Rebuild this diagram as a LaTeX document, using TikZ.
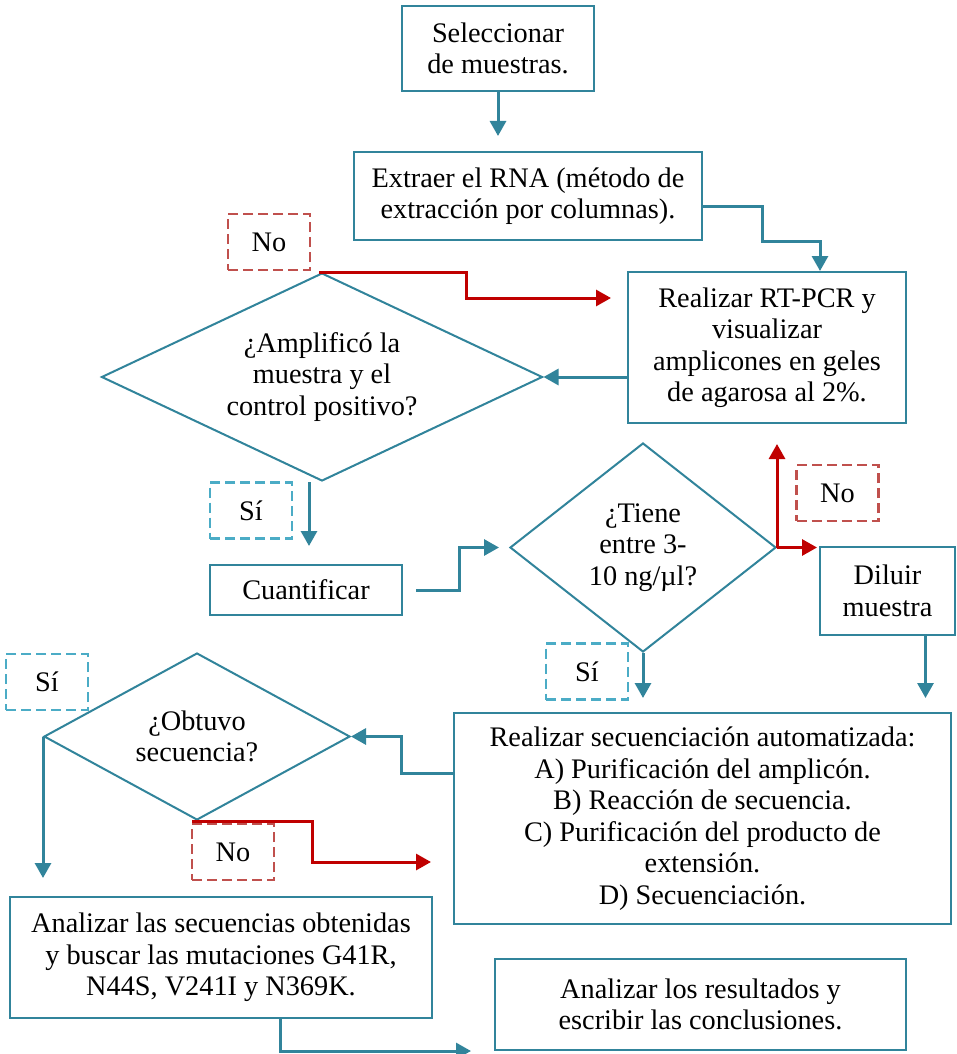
\documentclass[tikz,border=0pt]{standalone}
\usepackage{fontspec}
\setmainfont{Liberation Serif}
\usetikzlibrary{arrows.meta,shapes.geometric}
\definecolor{tealA}{HTML}{31849B}
\definecolor{redA}{HTML}{C00000}
\definecolor{dashred}{HTML}{C0504D}
\definecolor{dashcyan}{HTML}{4BACC6}
\newcommand\myfs{\fontsize{28.3}{31.5}\selectfont}
\begin{document}
\begin{tikzpicture}[x=1pt,y=-1pt,
  box/.style={draw=tealA, line width=2pt, fill=white, align=center, inner sep=0pt, font=\myfs},
  dia/.style={box, shape=diamond},
  lab/.style={line width=2.3pt, dash pattern=on 10pt off 5pt, inner sep=0pt, font=\myfs, minimum width=82pt, minimum height=56pt},
  nolab/.style={lab, draw=dashred},
  silab/.style={lab, draw=dashcyan},
  conn/.style={draw=tealA, line width=3pt, -{Triangle[width=16pt,length=15pt]}},
  rconn/.style={draw=redA, line width=3pt, -{Triangle[width=16pt,length=15pt]}}
]
\useasboundingbox (0,0) rectangle (956,1054);
\fill[white] (0,0) rectangle (956,1054);

% main boxes
\node[box, minimum width=192pt, minimum height=85pt] (sel) at (498,48.5) {Seleccionar\\de muestras.};
\node[box, minimum width=348pt, minimum height=88pt] (ext) at (528,196) {Extraer el RNA (método de\\extracción por columnas).};
\node[box, minimum width=278pt, minimum height=151pt] (rt) at (767,347.5) {Realizar RT-PCR y\\visualizar\\amplicones en geles\\de agarosa al 2\%.};
\node[dia, aspect=2.12, minimum width=441pt, minimum height=208pt] (d1) at (322,377) {¿Amplificó la\\muestra y el\\control positivo?};
\node[box, minimum width=192pt, minimum height=50pt] (cu) at (306,590) {Cuantificar};
\node[dia, aspect=1.27, minimum width=266pt, minimum height=209pt] (d2) at (643,547.5) {¿Tiene\\entre 3-\\10 ng/µl?};
\node[box, minimum width=135pt, minimum height=88pt] (dil) at (887.5,591) {Diluir\\muestra};
\node[box, minimum width=497pt, minimum height=211pt] (seq) at (702.5,818.5) {Realizar secuenciación automatizada:\\A) Purificación del amplicón.\\B) Reacción de secuencia.\\C) Purificación del producto de\\extensión.\\D) Secuenciación.};
\node[dia, aspect=1.83, minimum width=306pt, minimum height=167pt] (d3) at (197,736.5) {¿Obtuvo\\secuencia?};
\node[box, minimum width=422pt, minimum height=121pt] (an) at (221,957.5) {Analizar las secuencias obtenidas\\y buscar las mutaciones G41R,\\N44S, V241I y N369K.};
\node[box, minimum width=411pt, minimum height=91pt] (res) at (700.5,1004.5) {Analizar los resultados y\\escribir las conclusiones.};

% labels
\node[nolab] (no1) at (269,242) {No};
\node[silab] (si1) at (251,510.5) {Sí};
\node[nolab] (no2) at (837.5,493) {No};
\node[silab] (si2) at (587,671.5) {Sí};
\node[silab] (si3) at (47,682) {Sí};
\node[nolab] (no3) at (233,852) {No};

% connectors
\draw[conn, shorten >=15pt] (sel.south) -- (sel.south |- ext.north);
\draw[conn] ([yshift=-10pt]ext.east) -- ++(59,0) |- ([xshift=53pt]rt.north |- ext.south) -- ([xshift=53pt]rt.north);
\draw[conn] (rt.west |- d1.east) -- (d1.east);
\draw[rconn, shorten >=16pt] ([xshift=-3pt]d1.north) -- ++(147,0) |- ([yshift=-27pt]rt.north west);
\draw[conn, shorten >=18pt] ([xshift=3pt]d1.south -| cu.north) -- ([xshift=3pt]cu.north);
\draw[conn, shorten <=13pt, shorten >=10pt] (cu.east) -- ([xshift=56pt]cu.east) |- (d2.west);
\draw[rconn, shorten >=20pt] (d2.east) -- (d2.east |- rt.south);
\draw[rconn, shorten >=2pt] (d2.east) -- (d2.east -| dil.west);
\draw[conn, shorten >=14pt] (d2.south) -- (d2.south |- seq.north);
\draw[conn, shorten >=14pt] ([xshift=38pt]dil.south) -- ([xshift=38pt]dil.south |- seq.north);
\draw[conn] ([yshift=45.5pt]seq.west) -- ++(-52,0) |- (d3.east);
\draw[conn, shorten >=18pt] (d3.west) -- (d3.west |- an.north);
\draw[rconn, shorten >=22pt] ([xshift=-5pt]d3.south) -- ++(120,0) |- ([yshift=-43.5pt]seq.west);
\draw[conn, shorten >=23pt] ([xshift=59pt]an.south) |- (res.south west);
\end{tikzpicture}
\end{document}
